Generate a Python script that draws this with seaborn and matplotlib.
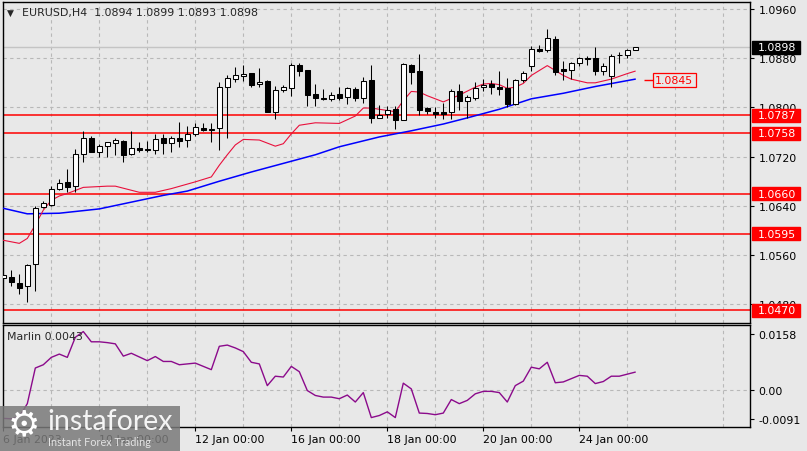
import numpy as np
import pandas as pd
import seaborn as sns
import matplotlib.pyplot as plt
from matplotlib.patches import Rectangle

# EURUSD H4 candles, 6 Jan 2023 00:00 -> 25 Jan 04:00
opens = [1.0523, 1.0525, 1.0515, 1.0509, 1.0545, 1.0638, 1.0642, 1.0668, 1.0679, 1.0673,
         1.0725, 1.0751, 1.0728, 1.0737, 1.0742, 1.0745, 1.0724, 1.0734, 1.0733, 1.0730,
         1.0750, 1.0742, 1.0750, 1.0747, 1.0756, 1.0767, 1.0764, 1.0766, 1.0833, 1.0847,
         1.0851, 1.0856, 1.0838, 1.0843, 1.0793, 1.0829, 1.0831, 1.0869, 1.0861, 1.0822,
         1.0816, 1.0813, 1.0822, 1.0817, 1.0830, 1.0815, 1.0845, 1.0782, 1.0789, 1.0797,
         1.0780, 1.0869, 1.0859, 1.0799, 1.0793, 1.0792, 1.0792, 1.0826, 1.0811, 1.0816,
         1.0833, 1.0838, 1.0834, 1.0831, 1.0806, 1.0845, 1.0868, 1.0895, 1.0893, 1.0911,
         1.0862, 1.0861, 1.0872, 1.0881, 1.0880, 1.0860, 1.0851, 1.0885, 1.0886, 1.0894]
highs = [1.0528, 1.0536, 1.0529, 1.0545, 1.0640, 1.0648, 1.0672, 1.0684, 1.0700, 1.0732,
         1.0762, 1.0754, 1.0741, 1.0743, 1.0751, 1.0747, 1.0761, 1.0743, 1.0746, 1.0757,
         1.0757, 1.0754, 1.0776, 1.0769, 1.0775, 1.0775, 1.0775, 1.0841, 1.0853, 1.0866,
         1.0869, 1.0856, 1.0864, 1.0844, 1.0835, 1.0836, 1.0872, 1.0873, 1.0861, 1.0838,
         1.0830, 1.0825, 1.0834, 1.0834, 1.0833, 1.0849, 1.0869, 1.0804, 1.0803, 1.0803,
         1.0872, 1.0871, 1.0887, 1.0800, 1.0800, 1.0808, 1.0830, 1.0838, 1.0820, 1.0842,
         1.0846, 1.0845, 1.0860, 1.0848, 1.0847, 1.0860, 1.0900, 1.0901, 1.0927, 1.0916,
         1.0876, 1.0874, 1.0882, 1.0883, 1.0898, 1.0873, 1.0887, 1.0890, 1.0895, 1.0899]
lows = [1.0521, 1.0510, 1.0496, 1.0483, 1.0501, 1.0637, 1.0640, 1.0666, 1.0662, 1.0663,
        1.0712, 1.0727, 1.0720, 1.0720, 1.0722, 1.0712, 1.0722, 1.0728, 1.0727, 1.0724,
        1.0724, 1.0727, 1.0735, 1.0735, 1.0753, 1.0762, 1.0743, 1.0730, 1.0751, 1.0841,
        1.0843, 1.0833, 1.0833, 1.0792, 1.0781, 1.0825, 1.0819, 1.0851, 1.0802, 1.0802,
        1.0812, 1.0811, 1.0812, 1.0806, 1.0811, 1.0808, 1.0774, 1.0782, 1.0782, 1.0765,
        1.0780, 1.0838, 1.0787, 1.0789, 1.0782, 1.0781, 1.0781, 1.0795, 1.0782, 1.0812,
        1.0827, 1.0822, 1.0821, 1.0801, 1.0804, 1.0841, 1.0860, 1.0890, 1.0890, 1.0852,
        1.0845, 1.0847, 1.0868, 1.0869, 1.0853, 1.0852, 1.0833, 1.0872, 1.0881, 1.0893]
closes = [1.0527, 1.0516, 1.0507, 1.0543, 1.0637, 1.0645, 1.0667, 1.0677, 1.0671, 1.0725,
          1.0750, 1.0728, 1.0737, 1.0743, 1.0747, 1.0722, 1.0734, 1.0731, 1.0730, 1.0749,
          1.0742, 1.0750, 1.0746, 1.0756, 1.0768, 1.0763, 1.0765, 1.0834, 1.0848, 1.0852,
          1.0855, 1.0837, 1.0842, 1.0793, 1.0828, 1.0834, 1.0869, 1.0860, 1.0820, 1.0815,
          1.0813, 1.0820, 1.0815, 1.0832, 1.0816, 1.0843, 1.0782, 1.0787, 1.0796, 1.0780,
          1.0871, 1.0858, 1.0795, 1.0794, 1.0789, 1.0789, 1.0826, 1.0811, 1.0817, 1.0831,
          1.0837, 1.0833, 1.0830, 1.0806, 1.0845, 1.0856, 1.0895, 1.0891, 1.0913, 1.0858,
          1.0860, 1.0872, 1.0881, 1.0878, 1.0860, 1.0867, 1.0883, 1.0886, 1.0893, 1.0898]

# moving averages (bar index, value)
red_bars = [0, 2, 3, 4, 5, 6, 7, 8, 10, 13, 14, 17, 19, 21, 24, 26, 27, 28, 29, 30,
            32, 34, 35, 36, 37, 39, 42, 44, 45, 46, 48, 49, 50, 51, 52, 53, 55, 57, 59, 60,
            61, 62, 63, 64, 65, 66, 68, 69, 70, 71, 73, 74, 76, 78, 79]
red_ma = [1.0584, 1.0579, 1.0587, 1.0609, 1.0633, 1.0649, 1.0656, 1.0660, 1.0670, 1.0672,
          1.0672, 1.0662, 1.0662, 1.0668, 1.0679, 1.0687, 1.0706, 1.0723, 1.0739, 1.0748,
          1.0747, 1.0737, 1.0741, 1.0757, 1.0771, 1.0775, 1.0774, 1.0786, 1.0799, 1.0799,
          1.0795, 1.0793, 1.0811, 1.0826, 1.0825, 1.0819, 1.0809, 1.0820, 1.0833, 1.0838,
          1.0839, 1.0837, 1.0831, 1.0833, 1.0839, 1.0852, 1.0868, 1.0860, 1.0852, 1.0846,
          1.0840, 1.0840, 1.0846, 1.0855, 1.0859]
blue_bars = [0, 3, 7, 12, 16, 20, 23, 27, 31, 35, 39, 42, 47, 51, 55, 58, 62, 66, 70, 74, 79]
blue_ma = [1.0636, 1.0627, 1.0628, 1.0635, 1.0646, 1.0657, 1.0664, 1.0680, 1.0695, 1.0709,
           1.0723, 1.0736, 1.0752, 1.0762, 1.0773, 1.0783, 1.0797, 1.0814, 1.0823, 1.0834,
           1.0846]

marlin = [-0.0070, -0.0071, -0.0066, -0.0034, 0.0053, 0.0061, 0.0079, 0.0087, 0.0079, 0.0128,
          0.0142, 0.0117, 0.0117, 0.0115, 0.0112, 0.0082, 0.0089, 0.0080, 0.0071, 0.0081,
          0.0069, 0.0069, 0.0061, 0.0063, 0.0065, 0.0057, 0.0049, 0.0106, 0.0109, 0.0102,
          0.0093, 0.0067, 0.0063, 0.0010, 0.0033, 0.0031, 0.0057, 0.0044, -0.0002, -0.0014,
          -0.0018, -0.0018, -0.0022, -0.0013, -0.0030, -0.0007, -0.0068, -0.0063, -0.0054, -0.0068,
          0.0016, 0.0002, -0.0057, -0.0058, -0.0061, -0.0057, -0.0024, -0.0034, -0.0026, -0.0010,
          -0.0004, -0.0004, -0.0007, -0.0030, 0.0010, 0.0021, 0.0055, 0.0051, 0.0067, 0.0017,
          0.0019, 0.0027, 0.0035, 0.0033, 0.0015, 0.0020, 0.0033, 0.0033, 0.0038, 0.0043]

levels = [1.0787, 1.0758, 1.0660, 1.0595, 1.0470]
price_ticks = [1.0960, 1.0880, 1.0800, 1.0720, 1.0640, 1.0560, 1.0480]
date_ticks = [0, 12, 24, 36, 48, 60, 72]
date_labels = ['6 Jan 2023', '10 Jan 00:00', '12 Jan 00:00', '16 Jan 00:00',
               '18 Jan 00:00', '20 Jan 00:00', '24 Jan 00:00']
last_price = 1.0898
ma_label = 1.0845

BG = '#e8e8e8'
GRID = '#b8b8b8'
FS = 7.9
sns.set_theme(style='white', rc={'figure.facecolor': BG, 'axes.facecolor': BG,
                                 'axes.edgecolor': 'black', 'axes.linewidth': 1.0})
plt.rcParams['font.family'] = ['DejaVu Sans']

fig = plt.figure(figsize=(8.07, 4.52), dpi=100)
ax = fig.add_axes([3 / 807, 1 - 324 / 452, 747 / 807, 321 / 452])
ax2 = fig.add_axes([3 / 807, 1 - 428 / 452, 747 / 807, 102 / 452])

df = pd.DataFrame({'o': opens, 'h': highs, 'l': lows, 'c': closes})
df['bar'] = np.arange(len(df))
up = df.c >= df.o

# --- main price panel
ax.axhline(last_price, color='#c4c4c4', lw=1, zorder=1)
for lv in levels:
    ax.axhline(lv, color='red', lw=1.1, zorder=2)
sns.lineplot(x=blue_bars, y=blue_ma, ax=ax, color='#0000ff', lw=1.1, zorder=3)
sns.lineplot(x=red_bars, y=red_ma, ax=ax, color='#e8103c', lw=0.8, zorder=3)
ax.vlines(df.bar, df.l, df.h, color='black', lw=0.75, zorder=4)
ax.bar(df.bar, (df.c - df.o).abs().clip(lower=0.00002), bottom=np.minimum(df.o, df.c),
       width=0.6, color=np.where(up, 'white', 'black'), edgecolor='black', lw=0.75, zorder=5)

ax.set_xlim(-0.04, 93.34)
ax.set_ylim(1.04495, 1.09714)
ax.set_xticks(range(0, 94, 6))
ax.set_yticks(price_ticks, labels=[f'{v:.4f}' for v in price_ticks])
ax.yaxis.tick_right()
ax.tick_params(axis='x', length=0, labelbottom=False)
ax.tick_params(axis='y', right=True, length=3, width=0.8, pad=3, labelsize=FS,
               colors='black', direction='out')
ax.grid(True, color=GRID, lw=0.8, linestyle=(0, (3, 3)))
ax.set_xlabel('')
ax.set_ylabel('')

ytr = ax.get_yaxis_transform()
for lv in levels:
    ax.add_patch(Rectangle((1.0027, lv - 0.00108), 0.0643, 0.00216, transform=ytr,
                           color='red', clip_on=False, zorder=6))
    ax.text(1.0098, lv, f'{lv:.4f}', transform=ytr, color='white', va='center',
            ha='left', fontsize=FS, zorder=7, clip_on=False)
ax.add_patch(Rectangle((1.0027, last_price - 0.00108), 0.0643, 0.00216, transform=ytr,
                       color='black', clip_on=False, zorder=6))
ax.text(1.0098, last_price, f'{last_price:.4f}', transform=ytr, color='white',
        va='center', ha='left', fontsize=FS, zorder=7, clip_on=False)

n = len(closes)
ax.hlines(ma_label, n + 0.1, n + 1.2, color='red', lw=1)
ax.text(n + 1.5, ma_label, f'{ma_label:.4f}', color='red', fontsize=FS, va='center',
        ha='left', bbox=dict(boxstyle='square,pad=0.2', fc=BG, ec='red', lw=0.9))

ax.text(0.0054, 0.969, '\u25bc', transform=ax.transAxes, fontsize=6.5, va='center')
ax.text(0.025, 0.969, 'EURUSD,H4  1.0894 1.0899 1.0893 1.0898', transform=ax.transAxes,
        fontsize=FS, va='center')

# --- Marlin panel
sns.lineplot(x=df.bar, y=marlin, ax=ax2, color='#8b0a8b', lw=1.0)
ax2.axhline(0, color=GRID, lw=0.8, linestyle=(0, (3, 3)), zorder=0)
ax2.set_xlim(-0.04, 93.34)
ax2.set_ylim(-0.0091, 0.0158)
ax2.set_xticks(date_ticks, labels=date_labels)
ax2.set_xticks(range(6, 94, 12), minor=True)
ax2.grid(True, axis='x', which='both', color=GRID, lw=0.8, linestyle=(0, (3, 3)))
ax2.tick_params(axis='x', which='major', bottom=True, length=3, width=0.8, pad=2,
                labelsize=FS, colors='black', direction='out')
ax2.tick_params(axis='x', which='minor', length=0)
for lbl in ax2.get_xticklabels():
    lbl.set_ha('left')
ax2.set_yticks([0.0136, 0.0, -0.0072], labels=['0.0158', '0.00', '-0.0091'])
ax2.yaxis.tick_right()
ax2.tick_params(axis='y', right=True, length=3, width=0.8, pad=3, labelsize=FS,
                colors='black', direction='out')
ax2.set_xlabel('')
ax2.set_ylabel('')
ax2.text(0.0054, 0.892, 'Marlin 0.0043', transform=ax2.transAxes, fontsize=FS, va='center')

# --- watermark
fig.add_artist(Rectangle((0, 0), 180 / 807, 45 / 452, transform=fig.transFigure,
                         facecolor='#7a7a7a', alpha=0.85, lw=0, zorder=10))
fig.text(24 / 807, 1 - 425 / 452, '\u2699', color='white', fontsize=26, ha='center',
         va='center', zorder=11)
fig.text(47 / 807, 1 - 422 / 452, 'instaforex', color='#f4f4f4', fontsize=20.5,
         family=['Lato', 'DejaVu Sans'], ha='left', va='center', zorder=11)
fig.text(48 / 807, 1 - 443 / 452, 'Instant Forex Trading', color='#e4e4e4', fontsize=7.8,
         family=['Lato', 'DejaVu Sans'], ha='left', va='center', zorder=11)

fig.savefig('out.png', dpi=100, facecolor=BG)
